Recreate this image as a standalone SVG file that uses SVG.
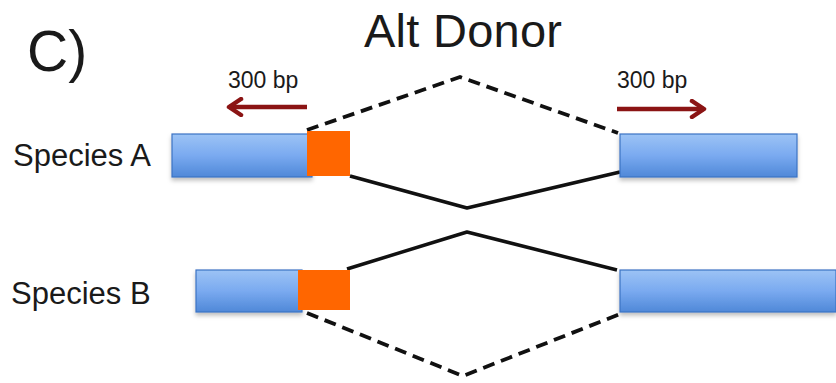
<svg xmlns="http://www.w3.org/2000/svg" width="836" height="383" viewBox="0 0 836 383">
  <defs>
    <linearGradient id="exonFill" x1="0" y1="0" x2="0" y2="1">
      <stop offset="0" stop-color="#9cc3f5"/>
      <stop offset="0.5" stop-color="#7aaaf0"/>
      <stop offset="1" stop-color="#4f88d8"/>
    </linearGradient>
    <filter id="shadow" x="-10%" y="-20%" width="120%" height="160%">
      <feDropShadow dx="0" dy="3" stdDeviation="2" flood-color="#000" flood-opacity="0.25"/>
    </filter>
    <!-- open chevron head for the length arrows -->
    <marker id="head" viewBox="0 0 20 20" refX="17" refY="10" markerWidth="20" markerHeight="20" orient="auto-start-reverse" markerUnits="userSpaceOnUse">
      <path d="M5,2 L17,10 L5,18" fill="none" stroke="#8b1414" stroke-width="4.5" stroke-linecap="round" stroke-linejoin="round"/>
    </marker>
  </defs>
  <style>
    .label { font-family: "Liberation Sans", Arial, sans-serif; fill: #1a1a1a; }
    .exon { fill: url(#exonFill); stroke: #3b73c4; stroke-width: 1.2; filter: url(#shadow); }
    .alt { fill: #ff6600; }
    .splice { fill: none; stroke: #111; stroke-width: 3.5; stroke-linejoin: round; }
    .dashed { stroke-width: 3.8; stroke-dasharray: 12 7; }
    .arrow { stroke: #8b1414; stroke-width: 4.5; fill: none; }
  </style>
  <rect width="836" height="383" fill="#fff"/>

  <text class="label" x="27" y="71" font-size="57">C)</text>
  <text class="label" x="364" y="47" font-size="47" textLength="198">Alt Donor</text>

  <g id="length-left">
    <text class="label" x="228" y="88" font-size="23">300 bp</text>
    <line class="arrow" x1="307" y1="107" x2="229" y2="107" marker-end="url(#head)"/>
  </g>
  <g id="length-right">
    <text class="label" x="617" y="88" font-size="23">300 bp</text>
    <line class="arrow" x1="617" y1="109" x2="704" y2="109" marker-end="url(#head)"/>
  </g>

  <g id="connectors">
    <polyline class="splice dashed" points="307,130 460,77 618,133"/>
    <polyline class="splice" points="350,176 467,208 620,172"/>
    <polyline class="splice" points="347,269 467,232 617,270"/>
    <polyline class="splice dashed" points="307,313 463,376 620,314"/>
  </g>

  <g id="species-a">
    <text class="label" x="13" y="166" font-size="31">Species A</text>
    <rect class="exon" x="172" y="134" width="140" height="43"/>
    <rect class="alt" x="307" y="131" width="43" height="45"/>
    <rect class="exon" x="620" y="134" width="177" height="43"/>
  </g>

  <g id="species-b">
    <text class="label" x="11" y="304" font-size="31">Species B</text>
    <rect class="exon" x="196" y="270" width="106" height="42"/>
    <rect class="alt" x="298" y="270" width="52" height="40"/>
    <rect class="exon" x="620" y="270" width="216" height="42"/>
  </g>
</svg>
